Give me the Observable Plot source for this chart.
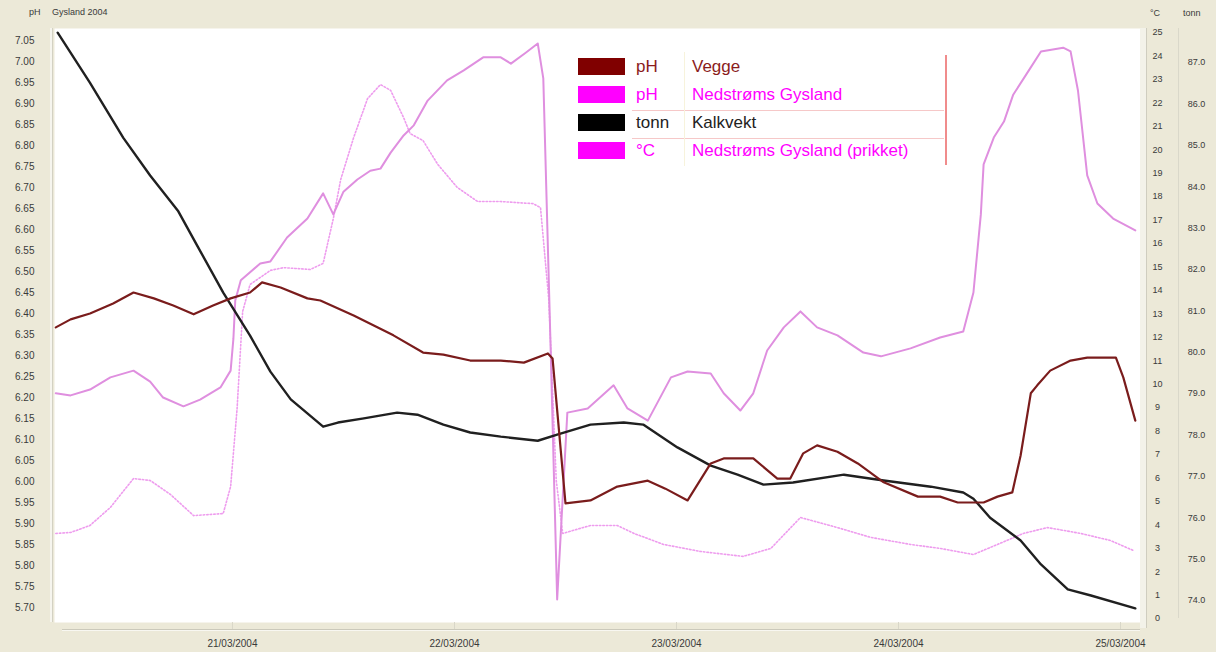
<!DOCTYPE html>
<html><head><meta charset="utf-8">
<script src="https://cdn.jsdelivr.net/npm/d3@7"></script>
<script src="https://cdn.jsdelivr.net/npm/@observablehq/plot@0.6"></script>
<style>
html,body{margin:0;padding:0;background:#ece9d8;}
#wrap{position:relative;width:1216px;height:652px;overflow:hidden;font-family:"Liberation Sans",Arial,sans-serif;}
#wrap svg{position:absolute;left:0;top:0;}
.hd{position:absolute;font-size:10px;color:#3a3a3a;white-space:nowrap;}
.ln{position:absolute;}
#legend{position:absolute;left:576px;top:52px;width:372px;height:114px;background:#fff;}
.lrow{position:absolute;left:0;height:28px;width:372px;font-size:17px;line-height:28px;}
.sw{position:absolute;left:2px;top:5px;width:47px;height:17px;}
.lu{position:absolute;left:60px;}
.lnm{position:absolute;left:116px;white-space:nowrap;}
</style></head><body><div id="wrap"></div>
<script>
// ---- data (hours after 21/03/2004 00:00) ----
const veggeHours = [-19.1,-17.5,-15.4,-12.9,-10.7,-8.5,-6.4,-4.2,-2.1,-0.2,1.9,3.2,5.2,8.1,9.5,13.1,17.4,20.6,22.8,25.7,29.0,31.5,34.1,34.6,36.0,38.7,41.6,44.9,46.8,49.2,51.7,53.1,56.3,58.9,60.3,61.7,63.2,65.4,67.6,70.4,74.1,76.5,78.4,81.2,82.7,84.3,85.2,86.3,87.0,88.4,90.6,92.4,95.5,96.3,97.6];
const veggePH = [6.367,6.386,6.400,6.424,6.450,6.436,6.419,6.398,6.419,6.436,6.450,6.474,6.462,6.436,6.431,6.395,6.348,6.307,6.302,6.288,6.288,6.283,6.305,6.293,5.948,5.955,5.988,6.002,5.983,5.955,6.043,6.055,6.055,6.007,6.007,6.067,6.086,6.071,6.043,5.998,5.964,5.964,5.950,5.950,5.964,5.974,6.062,6.210,6.229,6.264,6.288,6.295,6.295,6.248,6.145];

const nedHours = [-19.1,-17.5,-15.4,-13.2,-10.7,-8.9,-7.5,-5.3,-3.5,-1.3,-0.2,0.1,0.3,0.9,3.0,4.1,5.9,8.1,9.8,10.9,12.0,13.5,14.9,16.0,17.1,18.5,19.6,21.1,23.2,25.0,27.1,29.0,30.1,31.7,33.0,33.6,34.4,35.1,36.2,38.4,41.2,42.7,44.9,47.4,49.2,51.7,53.1,54.9,56.3,57.8,59.6,61.4,63.2,65.4,68.2,70.1,73.3,76.5,79.0,80.1,80.9,81.2,82.3,83.4,84.4,86.3,87.4,89.8,90.6,91.4,92.4,93.5,95.2,97.6];
const nedPH = [6.210,6.205,6.219,6.248,6.264,6.238,6.200,6.179,6.195,6.224,6.264,6.340,6.431,6.479,6.519,6.524,6.581,6.626,6.686,6.636,6.690,6.719,6.740,6.745,6.783,6.824,6.848,6.907,6.955,6.979,7.010,7.010,6.995,7.021,7.043,6.960,6.312,5.719,6.164,6.174,6.229,6.174,6.145,6.248,6.262,6.257,6.210,6.169,6.210,6.312,6.367,6.405,6.367,6.348,6.307,6.298,6.317,6.343,6.357,6.450,6.636,6.755,6.819,6.857,6.921,6.986,7.024,7.033,7.024,6.931,6.729,6.662,6.626,6.598];

const kalkHours = [-18.9,-15.4,-11.8,-8.9,-5.9,-3.8,-1.0,1.9,4.1,6.3,9.8,11.4,14.2,17.8,20.0,22.8,25.7,29.0,33.0,35.1,38.7,42.3,44.4,48.1,51.7,54.6,57.4,60.6,66.1,70.4,75.5,79.0,80.1,81.9,85.2,87.4,90.3,92.8,97.6];
const kalkTonn = [87.72,86.51,85.18,84.27,83.42,82.57,81.44,80.40,79.53,78.86,78.20,78.30,78.40,78.54,78.49,78.25,78.06,77.96,77.86,78.01,78.25,78.30,78.25,77.70,77.26,77.04,76.80,76.85,77.04,76.90,76.75,76.61,76.46,76.00,75.45,74.87,74.27,74.12,73.81];

const tempHours = [-19.1,-17.5,-15.4,-13.2,-10.7,-8.9,-6.7,-4.2,-1.0,-0.2,0.5,1.1,1.9,4.1,5.5,8.4,9.8,10.9,11.7,13.1,14.6,16.0,17.1,18.5,19.2,20.6,22.2,24.3,26.5,29.0,32.5,33.3,34.2,35.0,35.7,38.7,41.6,43.4,46.6,50.6,55.2,58.2,61.4,65.4,69.0,73.3,76.5,80.1,82.7,85.5,88.1,91.7,94.9,97.4];
const tempC = [3.63,3.67,3.97,4.74,5.97,5.89,5.29,4.39,4.48,5.63,8.96,13.10,14.25,14.85,14.97,14.89,15.15,17.06,18.73,20.52,22.18,22.78,22.53,21.37,20.69,20.39,19.37,18.39,17.79,17.79,17.70,17.53,13.57,5.89,3.63,3.97,3.97,3.63,3.16,2.86,2.65,2.99,4.31,3.88,3.46,3.16,2.99,2.73,3.16,3.63,3.88,3.63,3.33,2.90];

// ---- tick labels ----
const phTicks = [5.70,5.75,5.80,5.85,5.90,5.95,6.00,6.05,6.10,6.15,6.20,6.25,6.30,6.35,6.40,6.45,6.50,6.55,6.60,6.65,6.70,6.75,6.80,6.85,6.90,6.95,7.00,7.05];
const cTicks = [0,1,2,3,4,5,6,7,8,9,10,11,12,13,14,15,16,17,18,19,20,21,22,23,24,25];
const tonnTicks = [74,75,76,77,78,79,80,81,82,83,84,85,86,87];
const dateTickLabels = ["2004-03-21","2004-03-22","2004-03-23","2004-03-24","2004-03-25"];

const legendRows = [
  {unit:"pH", name:"Vegge", swatch:"#800000", color:"#8b1c1c"},
  {unit:"pH", name:"Nedstrøms Gysland", swatch:"#ff00ff", color:"#ff00ff"},
  {unit:"tonn", name:"Kalkvekt", swatch:"#000000", color:"#222222"},
  {unit:"°C", name:"Nedstrøms Gysland (prikket)", swatch:"#ff00ff", color:"#ff00ff"}
];

// ---- helpers ----
const t0 = Date.UTC(2004, 2, 21);
const toDate = h => new Date(t0 + h * 3600e3);
// secondary axes expressed on the pH scale (aligned as in the original)
const cToPH = c => 5.6738 + c * 0.055808;
const tToPH = t => 5.7167 + (t - 74) * 0.098531;

const veggeData = veggeHours.map((h, i) => ({t: toDate(h), v: veggePH[i]}));
const nedData = nedHours.map((h, i) => ({t: toDate(h), v: nedPH[i]}));
const kalkData = kalkHours.map((h, i) => ({t: toDate(h), v: tToPH(kalkTonn[i])}));
const tempData = tempHours.map((h, i) => ({t: toDate(h), v: cToPH(tempC[i])}));
const dateTicks = dateTickLabels.map(s => new Date(s + "T00:00:00Z"));

const chart = Plot.plot({
  width: 1216, height: 652,
  marginLeft: 54, marginRight: 76, marginTop: 28, marginBottom: 30,
  style: {background: "transparent", fontFamily: "'Liberation Sans', Arial, sans-serif", fontSize: "10px", color: "#3a3a3a"},
  x: {type: "utc", domain: [toDate(-19.24), toDate(98.16)]},
  y: {domain: [5.6643, 7.0786]},
  marks: [
    Plot.frame({fill: "white", stroke: null}),
    Plot.axisY(phTicks, {anchor: "left", tickSize: 0, tickPadding: 20, tickFormat: d => d.toFixed(2), label: null, fill: "#3a3a3a"}),
    Plot.axisX(dateTicks, {anchor: "bottom", tickSize: 9, tickPadding: 8, tickFormat: d3.utcFormat("%d/%m/%Y"), label: null, stroke: "#d9d7c9", fill: "#3a3a3a"}),
    Plot.text(cTicks, {y: d => cToPH(d), text: d => String(d), frameAnchor: "right", dx: 17, textAnchor: "middle", fontSize: 9, fill: "#3a3a3a"}),
    Plot.text(tonnTicks, {y: d => tToPH(d), text: d => d.toFixed(1), frameAnchor: "right", dx: 56, textAnchor: "middle", fontSize: 9, fill: "#3a3a3a"}),
    Plot.line(tempData, {x: "t", y: "v", stroke: "#ee9cee", strokeWidth: 1.6, strokeDasharray: "1.5,2"}),
    Plot.line(nedData, {x: "t", y: "v", stroke: "#df8fdf", strokeWidth: 2}),
    Plot.line(kalkData, {x: "t", y: "v", stroke: "#202020", strokeWidth: 2.4}),
    Plot.line(veggeData, {x: "t", y: "v", stroke: "#7a1c1c", strokeWidth: 2.2})
  ]
});

const wrap = document.getElementById("wrap");
wrap.appendChild(chart);

function addDiv(cls, style, text) {
  const d = document.createElement("div");
  d.className = cls;
  Object.assign(d.style, style);
  if (text != null) d.textContent = text;
  wrap.appendChild(d);
  return d;
}
// header texts
addDiv("hd", {left: "29px", top: "7px", fontSize: "9px"}, "pH");
addDiv("hd", {left: "52px", top: "7px", fontSize: "9px"}, "Gysland 2004");
addDiv("hd", {left: "1150px", top: "8px", fontSize: "9px"}, "°C");
addDiv("hd", {left: "1183px", top: "8px", fontSize: "9px"}, "tonn");
// decorative strips
addDiv("ln", {left: "50px", top: "28px", width: "2px", height: "594px", background: "#f6f5ee"});
addDiv("ln", {left: "52px", top: "28px", width: "1px", height: "594px", background: "#d3d1c3"});
addDiv("ln", {left: "62px", top: "629px", width: "1078px", height: "1px", background: "#cbc9bb"});
addDiv("ln", {left: "62px", top: "630px", width: "1078px", height: "1px", background: "#f8f7f1"});
addDiv("ln", {left: "1140px", top: "28px", width: "6px", height: "600px", background: "#f3f2e9"});
addDiv("ln", {left: "1146px", top: "28px", width: "1px", height: "600px", background: "#cfcdbf"});
addDiv("ln", {left: "1178px", top: "28px", width: "1px", height: "590px", background: "#dad8ca"});

// legend
const lg = document.createElement("div");
lg.id = "legend";
wrap.appendChild(lg);
legendRows.forEach((r, i) => {
  const row = document.createElement("div");
  row.className = "lrow";
  row.style.top = (1 + i * 28) + "px";
  row.innerHTML = `<div class="sw" style="background:${r.swatch}"></div><span class="lu" style="color:${r.color}">${r.unit}</span><span class="lnm" style="color:${r.color}">${r.name}</span>`;
  lg.appendChild(row);
});
[58, 86].forEach(y => {
  const l = document.createElement("div");
  Object.assign(l.style, {position: "absolute", left: "56px", top: y + "px", width: "312px", height: "1px", background: "#f6c8c8"});
  lg.appendChild(l);
});
const vl = document.createElement("div");
Object.assign(vl.style, {position: "absolute", left: "108px", top: "0px", width: "1px", height: "114px", background: "#f7f3dc"});
lg.appendChild(vl);
const vr = document.createElement("div");
Object.assign(vr.style, {position: "absolute", left: "369px", top: "3px", width: "2px", height: "110px", background: "#f08c8c"});
lg.appendChild(vr);
</script></body></html>
